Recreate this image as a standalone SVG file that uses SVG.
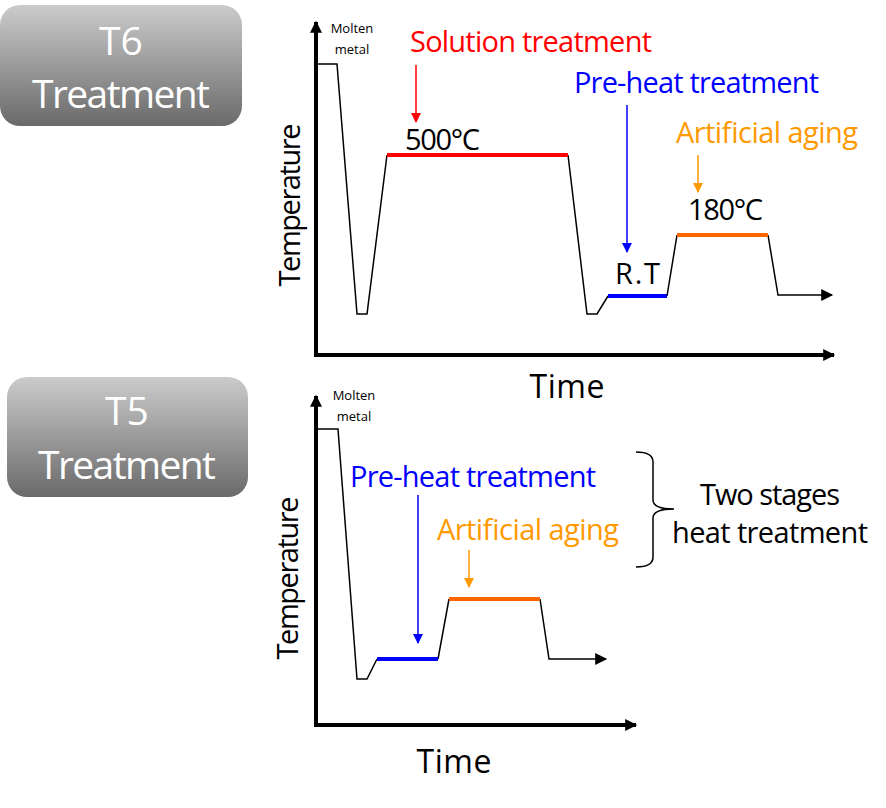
<svg xmlns="http://www.w3.org/2000/svg" width="886" height="808" viewBox="0 0 886 808">
<defs>
<linearGradient id="g" x1="0" y1="0" x2="0" y2="1"><stop offset="0" stop-color="#cbcbcb"/><stop offset="1" stop-color="#6a6a6a"/></linearGradient>
<marker id="ak" viewBox="0 0 10 10" refX="9" refY="5" markerWidth="14" markerHeight="12" orient="auto" markerUnits="userSpaceOnUse"><path d="M0,0L10,5L0,10z" fill="#000"/></marker>
<marker id="ar" viewBox="0 0 10 10" refX="9" refY="5" markerWidth="10" markerHeight="10" orient="auto" markerUnits="userSpaceOnUse"><path d="M0,0L10,5L0,10z" fill="#f00"/></marker>
<marker id="abl" viewBox="0 0 10 10" refX="9" refY="5" markerWidth="10" markerHeight="10" orient="auto" markerUnits="userSpaceOnUse"><path d="M0,0L10,5L0,10z" fill="#00f"/></marker>
<marker id="ao" viewBox="0 0 10 10" refX="9" refY="5" markerWidth="10" markerHeight="10" orient="auto" markerUnits="userSpaceOnUse"><path d="M0,0L10,5L0,10z" fill="#f90"/></marker>
</defs>
<style>
text{font-family:"Open Sans","Noto Sans",sans-serif}
.box{fill:url(#g)}
.bt{fill:#fff;font-size:39px;text-anchor:middle}
.ax{stroke:#000;stroke-width:4;fill:none}
.cv{stroke:#000;stroke-width:1.5;fill:none}
.sm{font-size:13px;text-anchor:middle}
.lb{font-size:29px}
.hot{stroke-width:4}
</style>
<g id="t6box"><rect class="box" x="0" y="5" width="242" height="121" rx="20"/><text class="bt" x="121" y="55">T6</text><text class="bt" x="121" y="108" textLength="178">Treatment</text></g>
<g id="t5box"><rect class="box" x="7" y="377" width="241" height="120" rx="20"/><text class="bt" x="127" y="425">T5</text><text class="bt" x="127" y="479" textLength="178">Treatment</text></g>
<g id="connectors">
<path class="ax" d="M316,355V22" marker-end="url(#ak)"/>
<path class="ax" d="M314,355H834" marker-end="url(#ak)"/>
<path class="cv" d="M318,64H337L357,314H367L387,155M568,155L587,314H597L608,296M667,296L677,235M768,235L778,295H832" marker-end="url(#ak)"/>
<path d="M387,155H568" stroke="#f00" class="hot"/>
<path d="M608,296H667" stroke="#00f" class="hot"/>
<path d="M677,235H768" stroke="#f60" class="hot"/>
<path d="M416,65V122" stroke="#f00" stroke-width="1.5" marker-end="url(#ar)"/>
<path d="M627,105V252" stroke="#00f" stroke-width="1.5" marker-end="url(#abl)"/>
<path d="M698,155V192" stroke="#f90" stroke-width="1.5" marker-end="url(#ao)"/>
<path class="ax" d="M316,725V396" marker-end="url(#ak)"/>
<path class="ax" d="M314,725H636" marker-end="url(#ak)"/>
<path class="cv" d="M318,429H338L357,679H367L377,659M438,659L449,599M540,599L549,659H606" marker-end="url(#ak)"/>
<path d="M377,659H438" stroke="#00f" class="hot"/>
<path d="M449,599H540" stroke="#f60" class="hot"/>
<path d="M418,495V643" stroke="#00f" stroke-width="1.5" marker-end="url(#abl)"/>
<path d="M469,550V587" stroke="#f90" stroke-width="1.5" marker-end="url(#ao)"/>
<path d="M636,452Q653,452 653,462V500Q653,509 674,509Q653,509 653,518V557Q653,567 636,567" stroke="#000" stroke-width="1.5" fill="none"/>
</g>
<g id="labels">
<text class="sm" x="352" y="33">Molten</text><text class="sm" x="352" y="54">metal</text>
<text class="lb" x="410" y="52" fill="#f00" textLength="242">Solution treatment</text>
<text class="lb" x="405" y="150" font-size="26" textLength="75">500°C</text>
<text class="lb" x="574" y="93" fill="#00f" textLength="245">Pre-heat treatment</text>
<text class="lb" x="615" y="284" font-size="26" textLength="45">R.T</text>
<text class="lb" x="676" y="143" fill="#f90" textLength="182">Artificial aging</text>
<text class="lb" x="688" y="220" font-size="26" textLength="75">180°C</text>
<text x="567" y="398" font-size="32" text-anchor="middle" textLength="75">Time</text>
<text transform="translate(300,205) rotate(-90)" font-size="29" text-anchor="middle" textLength="163">Temperature</text>
<text class="sm" x="354" y="400">Molten</text><text class="sm" x="354" y="421">metal</text>
<text class="lb" x="350" y="487" fill="#00f" textLength="246">Pre-heat treatment</text>
<text class="lb" x="437" y="540" fill="#f90" textLength="182">Artificial aging</text>
<text class="lb" x="770" y="505" text-anchor="middle" textLength="140">Two stages</text>
<text class="lb" x="770" y="543" text-anchor="middle" textLength="196">heat treatment</text>
<text x="454" y="773" font-size="32" text-anchor="middle" textLength="75">Time</text>
<text transform="translate(298,578) rotate(-90)" font-size="29" text-anchor="middle" textLength="163">Temperature</text>
</g>
</svg>
